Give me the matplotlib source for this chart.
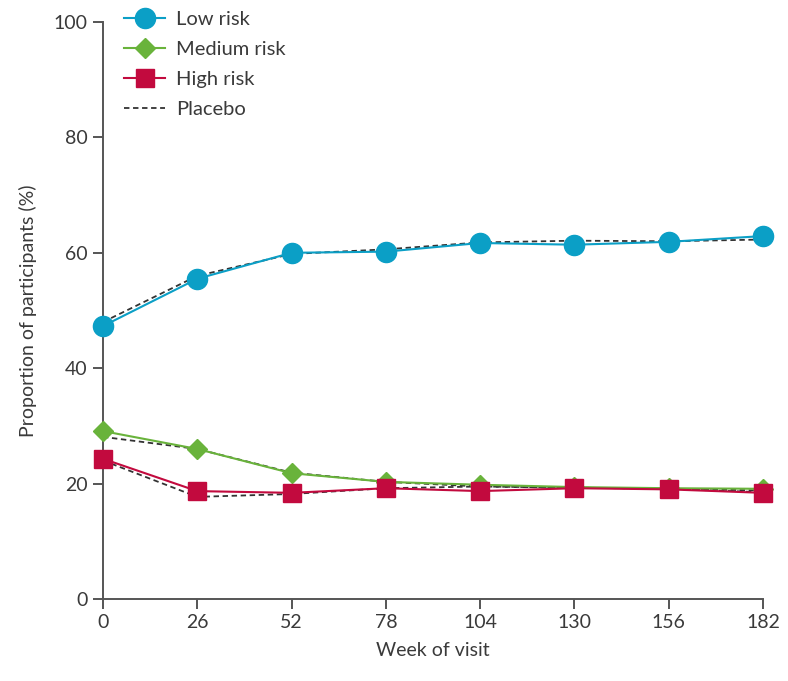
import matplotlib
matplotlib.use("Agg")
import matplotlib.pyplot as plt

plt.rcParams['font.family'] = ['Lato', 'DejaVu Sans']

weeks = [0, 26, 52, 78, 104, 130, 156, 182]
low_risk = [47.3, 55.5, 60.0, 60.2, 61.7, 61.4, 61.9, 62.9]
medium_risk = [29.1, 26.0, 21.8, 20.3, 19.8, 19.4, 19.2, 19.1]
high_risk = [24.3, 18.7, 18.4, 19.2, 18.7, 19.2, 19.0, 18.4]
placebo_low = [48.0, 56.0, 59.8, 60.6, 61.8, 62.1, 62.0, 62.3]
placebo_medium = [28.1, 26.0, 21.9, 20.3, 19.5, 19.3, 19.1, 18.8]
placebo_high = [24.0, 17.7, 18.2, 19.2, 19.5, 19.3, 19.1, 18.5]

text_col = '#3a3a3a'

fig = plt.figure(figsize=(7.88, 6.81), dpi=100)
ax = fig.add_axes([0.1307, 0.1204, 0.8376, 0.8473])

# placebo lines under the active series
for p in (placebo_low, placebo_medium, placebo_high):
    ax.plot(weeks, p, color='#333333', linestyle=(0, (3, 2)), linewidth=1.3, zorder=2)
ax.plot([], [], color='#333333', linestyle=(0, (3, 2)), linewidth=1.3, label='Placebo')

ax.plot(weeks, low_risk, color='#0b9fc6', marker='o', markersize=14.5, linewidth=1.5,
        label='Low risk', clip_on=False, zorder=4)
ax.plot(weeks, medium_risk, color='#69b33b', marker='D', markersize=10.5, linewidth=1.5,
        label='Medium risk', clip_on=False, zorder=3)
ax.plot(weeks, high_risk, color='#c20a3e', marker='s', markersize=12.5, linewidth=1.5,
        label='High risk', clip_on=False, zorder=4)

ax.set_xlim(0, 182)
ax.set_ylim(0, 100)
ax.set_xticks(weeks)
ax.set_yticks([0, 20, 40, 60, 80, 100])
ax.spines['top'].set_visible(False)
ax.spines['right'].set_visible(False)
for s in ('left', 'bottom'):
    ax.spines[s].set_color('#555555')
    ax.spines[s].set_linewidth(1.4)
ax.tick_params(direction='out', length=7, width=1.4, color='#555555',
               labelsize=14, labelcolor=text_col, pad=4)
ax.set_xlabel('Week of visit', fontsize=14, color=text_col, labelpad=8)
ax.set_ylabel('Proportion of participants (%)', fontsize=14, color=text_col, labelpad=12)

h, l = ax.get_legend_handles_labels()
order = [l.index(n) for n in ['Low risk', 'Medium risk', 'High risk', 'Placebo']]
ax.legend([h[i] for i in order], [l[i] for i in order], loc='upper left',
          bbox_to_anchor=(0.005, 1.05), frameon=False, fontsize=14.5,
          labelcolor=text_col, handlelength=2.0, labelspacing=0.63, handletextpad=0.55)

fig.savefig('out.png', dpi=100)
